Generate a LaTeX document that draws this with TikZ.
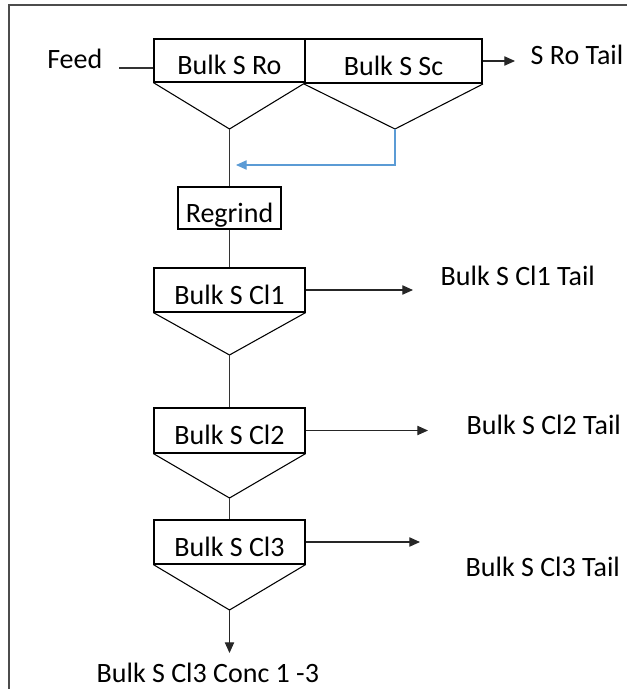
\documentclass[tikz,border=0pt]{standalone}
\usepackage{fontspec}
\setmainfont{Carlito}
\usetikzlibrary{arrows.meta}
\definecolor{recyblue}{RGB}{91,155,213}
\tikzset{
  cell/.style={draw, line width=0.9pt, inner sep=0pt, text height=21pt, text depth=0pt},
  cone/.style={line width=0.8pt, line join=miter},
  pipe/.style={line width=0.8pt, black!80},
  flow/.style={line width=0.8pt, black!85, -{Triangle[length=8pt,width=7pt]}},
  recy/.style={line width=0.8pt, recyblue, -{Triangle[length=8pt,width=7pt]}},
}

\begin{document}
\begin{tikzpicture}[x=0.75pt, y=-0.75pt, font=\fontsize{21}{25}\selectfont]
  \useasboundingbox (0,0) rectangle (627,689);
  \draw[line width=1.6pt, black!70] (9,689) -- (9,5) -- (627,5);

  % cells
  \node[cell, minimum width=113.25pt, minimum height=32.25pt] (ro) at (229.5,60.5) {Bulk S Ro};
  \node[cell, line width=1.5pt, minimum width=132.75pt, minimum height=33pt] (sc) at (393.5,61) {Bulk S Sc};
  \node[cell, minimum width=77.25pt, minimum height=31.5pt] (rg) at (229.5,208) {Regrind};
  \node[cell, minimum width=113.25pt, minimum height=33pt] (c1) at (229.5,290) {Bulk S Cl1};
  \node[cell, minimum width=113.25pt, minimum height=33.75pt] (c2) at (229.5,430.5) {Bulk S Cl2};
  \node[cell, minimum width=113.25pt, minimum height=33pt] (c3) at (229.5,542) {Bulk S Cl3};

  % streams
  \node[anchor=base east] (fd) at (107,68) {Feed};
  \node[anchor=base west] (rt) at (526,64) {S Ro Tail};
  \node[anchor=base west] (t1) at (436,285) {Bulk S Cl1 Tail};
  \node[anchor=base west] (t2) at (462,434) {Bulk S Cl2 Tail};
  \node[anchor=base west] (t3) at (461,576) {Bulk S Cl3 Tail};
  \node[anchor=base west] (cc) at (92,682) {Bulk S Cl3 Conc 1 -3};

  % cone tips and arrow ends
  \coordinate (roa) at (229.5,129);
  \coordinate (sca) at (395,129);
  \coordinate (c1a) at (229.5,355);
  \coordinate (c2a) at (229.5,498);
  \coordinate (c3a) at (229.5,610);
  \coordinate (bt) at (236,165);
  \coordinate (rte) at (515,61);
  \coordinate (c1e) at (413,290);
  \coordinate (c2e) at (428,430.5);
  \coordinate (c3e) at (420,542);
  \coordinate (cce) at (229.5,653);

  \draw[cone] (ro.south west) -- (roa) -- (ro.south east);
  \draw[cone] (sc.south west) -- (sca) -- (sc.south east);
  \draw[cone] (c1.south west) -- (c1a) -- (c1.south east);
  \draw[cone] (c2.south west) -- (c2a) -- (c2.south east);
  \draw[cone] (c3.south west) -- (c3a) -- (c3.south east);

  \draw[pipe] ([xshift=9pt]fd.base east) -- (fd.base -| ro.west);
  \draw[flow] (sc) -- (rte);
  \draw[pipe] (roa) -- (rg);
  \draw[recy] (sca) |- (bt);
  \draw[pipe] (rg) -- (c1);
  \draw[flow] (c1) -- (c1e);
  \draw[pipe] (c1a) -- (c2);
  \draw[flow] (c2) -- (c2e);
  \draw[pipe] (c2a) -- (c3);
  \draw[flow] (c3) -- (c3e);
  \draw[flow] (c3a) -- (cce);
\end{tikzpicture}
\end{document}
